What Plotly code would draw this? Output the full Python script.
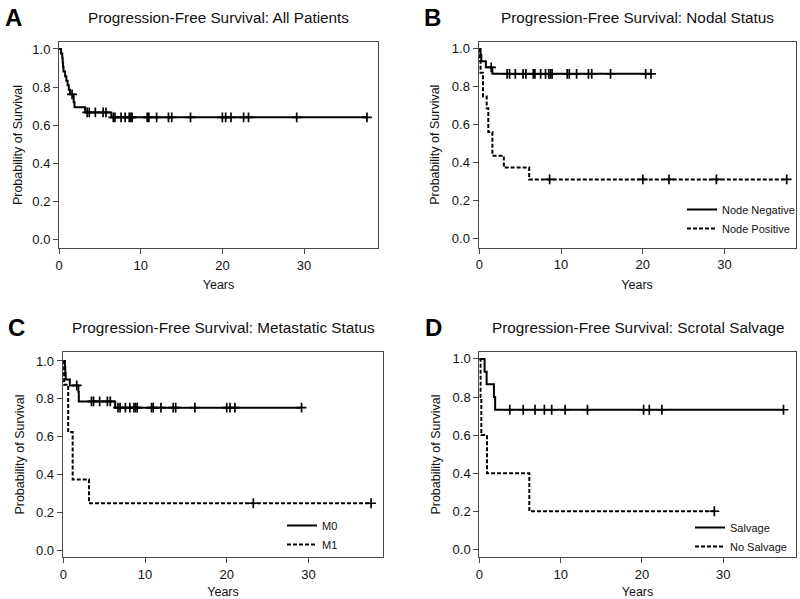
import plotly.graph_objects as go

# ---------------- DATA ----------------
# Panel A: all patients
a_times = [0.25, 0.4, 0.45, 0.5, 0.55, 0.75, 0.9, 1.05, 1.2, 1.35, 1.8, 1.9, 3.2, 6.4]
a_surv = [0.976, 0.952, 0.929, 0.905, 0.881, 0.857, 0.833, 0.81, 0.786, 0.762, 0.72, 0.694, 0.667, 0.641]
a_censor = [1.6, 3.45, 3.7, 4.45, 5.4, 5.75, 6.65, 6.85, 7.6, 8.1, 8.6, 8.8, 8.95, 10.8, 11.0,
            11.95, 13.4, 13.8, 16.1, 20.0, 20.4, 21.05, 22.6, 23.2, 29.1, 37.7]

# Panel B: nodal status
b_neg_times = [0.15, 0.25, 0.8, 1.6]
b_neg_surv = [0.968, 0.935, 0.903, 0.869]
b_neg_censor = [1.45, 3.4, 3.7, 4.4, 5.35, 5.7, 6.6, 6.8, 7.5, 8.1, 8.5, 8.7, 8.9, 10.75, 11.0,
                11.9, 13.35, 13.75, 16.05, 20.35, 21.0]
b_pos_times = [0.08, 0.15, 0.45, 0.9, 1.1, 1.6, 3.0, 6.1]
b_pos_surv = [0.9375, 0.875, 0.75, 0.6875, 0.5625, 0.4375, 0.375, 0.3125]
b_pos_censor = [8.6, 20.0, 23.2, 29.0, 37.6]

# Panel C: metastatic status
c_m0_times = [0.2, 0.25, 0.3, 0.8, 1.85, 1.9, 6.35]
c_m0_surv = [0.968, 0.935, 0.903, 0.871, 0.837, 0.787, 0.754]
c_m0_censor = [1.65, 3.45, 3.7, 4.45, 5.4, 5.75, 6.7, 6.95, 7.6, 8.15, 8.65, 8.85, 9.05, 10.8, 11.0,
               11.95, 13.45, 13.75, 16.1, 20.0, 20.4, 21.0, 29.15]
c_m1_times = [0.1, 0.6, 1.15, 3.15]
c_m1_surv = [0.875, 0.625, 0.375, 0.25]
c_m1_censor = [23.25, 37.65]

# Panel D: scrotal salvage
d_sal_times = [0.65, 0.9, 1.8, 1.95]
d_sal_surv = [0.933, 0.867, 0.8, 0.733]
d_sal_censor = [3.75, 5.4, 6.85, 8.0, 8.9, 10.55, 13.3, 20.2, 20.9, 22.45, 37.4]
d_no_times = [0.15, 0.25, 0.95, 6.15]
d_no_surv = [0.8, 0.6, 0.4, 0.2]
d_no_censor = [28.9]

x_ticks = [0, 10, 20, 30]
y_ticks = [0.0, 0.2, 0.4, 0.6, 0.8, 1.0]

titles = ["Progression-Free Survival: All Patients",
          "Progression-Free Survival: Nodal Status",
          "Progression-Free Survival: Metastatic Status",
          "Progression-Free Survival: Scrotal Salvage"]
letters = ["A", "B", "C", "D"]

# ---------------- HELPERS ----------------
FONT = "Liberation Sans, Arial, sans-serif"
TXT = "#1a1a1a"
W, H = 800, 599


def step_xy(times, surv, censor):
    end = max([times[-1]] + censor)
    return [0.0] + times + [end], [1.0] + surv + [surv[-1]]


def surv_at(times, surv, t):
    s = 1.0
    for ti, si in zip(times, surv):
        if ti <= t:
            s = si
    return s


fig = go.Figure()


def add_curve(times, surv, censor, ax, dash, name=None, legend=None):
    x, y = step_xy(times, surv, censor)
    fig.add_trace(go.Scatter(
        x=x, y=y, mode="lines", line=dict(color="black", width=2, dash=dash, shape="hv"),
        xaxis="x" + ax, yaxis="y" + ax, name=name or "", showlegend=name is not None,
        legend=legend, hoverinfo="skip"))
    fig.add_trace(go.Scatter(
        x=censor, y=[surv_at(times, surv, t) for t in censor], mode="markers",
        marker=dict(symbol="cross-thin", size=7, line=dict(color="black", width=1.7)),
        xaxis="x" + ax, yaxis="y" + ax, showlegend=False, hoverinfo="skip"))


DASH = "4px,2px"
add_curve(a_times, a_surv, a_censor, "", "solid")
add_curve(b_neg_times, b_neg_surv, b_neg_censor, "2", "solid", "Node Negative", "legend2")
add_curve(b_pos_times, b_pos_surv, b_pos_censor, "2", DASH, "Node Positive", "legend2")
add_curve(c_m0_times, c_m0_surv, c_m0_censor, "3", "solid", "M0", "legend3")
add_curve(c_m1_times, c_m1_surv, c_m1_censor, "3", DASH, "M1", "legend3")
add_curve(d_sal_times, d_sal_surv, d_sal_censor, "4", "solid", "Salvage", "legend4")
add_curve(d_no_times, d_no_surv, d_no_censor, "4", DASH, "No Salvage", "legend4")

# panel boxes in pixels: (left, right, top, bottom)
boxes = [(59, 378, 41.7, 248.3), (478.5, 795.7, 41.7, 247.7),
         (62.7, 383.3, 351.7, 557.3), (479.3, 795.7, 351.7, 557.3)]
xranges = [[0, 39.05], [-0.1, 38.7], [-0.07, 39.15], [0, 38.9]]
yranges = [[-0.046, 1.038], [-0.047, 1.038], [-0.035, 1.049], [-0.042, 1.038]]
x_standoff = [8, 8, 12, 12]
y_standoff = [6, 9, 8, 9]

layout = dict(width=W, height=H, margin=dict(l=0, r=0, t=0, b=0, autoexpand=False),
              paper_bgcolor="white", plot_bgcolor="white",
              font=dict(family=FONT, color=TXT, size=12), annotations=[])

for i, (l, r, t, b) in enumerate(boxes):
    sfx = "" if i == 0 else str(i + 1)
    axcommon = dict(showline=True, mirror=True, linecolor="#4a4a4a", linewidth=1,
                    ticks="outside", ticklen=5, tickcolor="#4a4a4a", showgrid=False,
                    zeroline=False, tickfont=dict(size=13, color="#111"), automargin=False)
    layout["xaxis" + sfx] = dict(axcommon, domain=[l / W, r / W], range=xranges[i],
                                 anchor="y" + sfx, tickvals=x_ticks,
                                 title=dict(text="Years", font=dict(size=12.5, color="#111"),
                                            standoff=x_standoff[i]))
    layout["yaxis" + sfx] = dict(axcommon, domain=[1 - b / H, 1 - t / H], range=yranges[i],
                                 anchor="x" + sfx, tickvals=y_ticks, tickformat=".1f",
                                 title=dict(text="Probability of Survival",
                                            font=dict(size=12.5, color="#111"),
                                            standoff=y_standoff[i]))
    cx = (l + r) / 2
    ty = t - 24
    layout["annotations"].append(dict(text=titles[i], x=cx / W, y=1 - ty / H, xref="paper",
                                      yref="paper", showarrow=False, xanchor="center",
                                      yanchor="middle", font=dict(size=15.3, color="#111")))
    layout["annotations"].append(dict(text="<b>" + letters[i] + "</b>", x=(l - 46) / W,
                                      y=1 - ty / H, xref="paper", yref="paper",
                                      showarrow=False, xanchor="center", yanchor="middle",
                                      font=dict(size=24, color="black")))

legend_common = dict(bgcolor="rgba(0,0,0,0)", borderwidth=0, font=dict(size=11, color="#111"),
                     xanchor="left", yanchor="top", tracegroupgap=0, itemwidth=30)
layout["legend2"] = dict(legend_common, x=682 / W, y=1 - 195 / H)
layout["legend3"] = dict(legend_common, x=282 / W, y=1 - 511 / H)
layout["legend4"] = dict(legend_common, x=690 / W, y=1 - 513 / H)

fig.update_layout(**layout)
fig.write_html("out.html", config={"displayModeBar": False},
               post_script="document.body.style.margin='0';document.body.style.overflow='hidden';")
